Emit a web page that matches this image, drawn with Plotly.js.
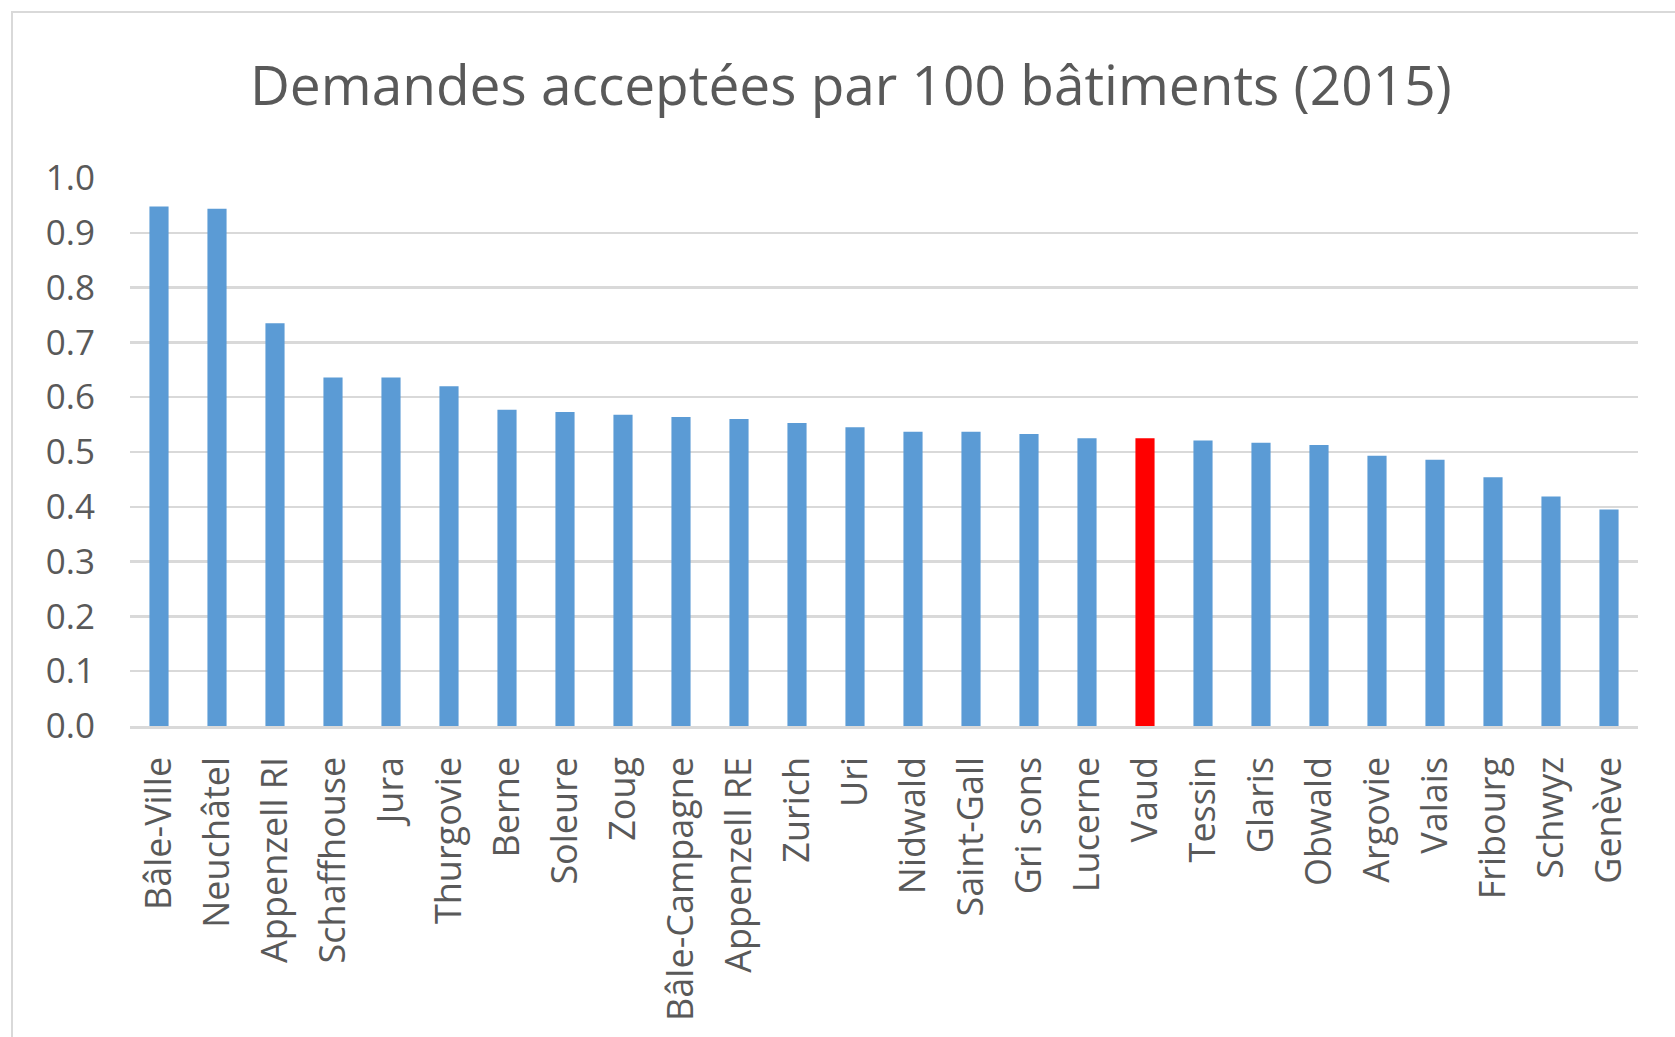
<!DOCTYPE html>
<html>
<head>
<meta charset="utf-8">
<script src="https://cdn.plot.ly/plotly-3.0.1.min.js"></script>
<style>
  html, body { margin: 0; padding: 0; background: #ffffff; overflow: hidden; }
  #frame {
    position: absolute; left: 11px; top: 11px;
    width: 1720px; height: 1100px;
    border: 2px solid #d9d9d9; box-sizing: border-box;
  }
  #chart { position: absolute; left: 0; top: 0; width: 1675px; height: 1037px; }
</style>
</head>
<body>
<div id="frame"></div>
<div id="chart"></div>
<script>
// Cantons, ordered from highest to lowest rate
const cantons = [
  "Bâle-Ville", "Neuchâtel", "Appenzell RI", "Schaffhouse", "Jura", "Thurgovie",
  "Berne", "Soleure", "Zoug", "Bâle-Campagne", "Appenzell RE", "Zurich", "Uri",
  "Nidwald", "Saint-Gall", "Gri sons", "Lucerne", "Vaud", "Tessin", "Glaris",
  "Obwald", "Argovie", "Valais", "Fribourg", "Schwyz", "Genève"
];

// Accepted requests per 100 buildings (2015)
const rates = [
  0.948, 0.944, 0.735, 0.636, 0.636, 0.620,
  0.577, 0.573, 0.568, 0.564, 0.560, 0.553, 0.545,
  0.537, 0.537, 0.533, 0.525, 0.525, 0.521, 0.517,
  0.513, 0.493, 0.486, 0.454, 0.419, 0.395
];

const highlighted = "Vaud";
const baseColor = "#5b9bd5";
const highlightColor = "#ff0000";
const barColors = cantons.map(c => c === highlighted ? highlightColor : baseColor);

const yTicks = [0, 0.1, 0.2, 0.3, 0.4, 0.5, 0.6, 0.7, 0.8, 0.9, 1.0];

const trace = {
  type: "bar",
  x: cantons,
  y: rates,
  marker: { color: barColors, line: { width: 0 } },
  hoverinfo: "x+y"
};

const yLabelFont = { family: "Open Sans, sans-serif", size: 35, color: "#595959" };
const xLabelFont = { family: "Open Sans, sans-serif", size: 36, color: "#595959" };

const layout = {
  width: 1675,
  height: 1037,
  paper_bgcolor: "rgba(0,0,0,0)",
  plot_bgcolor: "rgba(0,0,0,0)",
  margin: { l: 130, r: 37, t: 178, b: 311 },
  bargap: 0.67,
  showlegend: false,
  title: {
    text: "Demandes acceptées par 100 bâtiments (2015)",
    font: { family: "Open Sans, sans-serif", size: 55, color: "#595959" },
    x: 0.508, xanchor: "center", y: 0.917, yanchor: "middle"
  },
  xaxis: {
    type: "category",
    range: [-0.5, cantons.length - 0.5],
    tickangle: -90,
    tickfont: xLabelFont,
    showgrid: false,
    showline: true,
    linecolor: "#d9d9d9",
    linewidth: 2.5,
    ticks: "",
    ticklabelstandoff: 14,
    fixedrange: true
  },
  yaxis: {
    range: [0, 1.0],
    tickvals: yTicks,
    tickformat: ".1f",
    tickfont: yLabelFont,
    showgrid: true,
    gridcolor: "#d9d9d9",
    gridwidth: 2.5,
    zeroline: false,
    showline: false,
    ticks: "",
    ticklabelstandoff: 34,
    fixedrange: true
  }
};

Plotly.newPlot("chart", [trace], layout, { displayModeBar: false, staticPlot: true });
</script>
</body>
</html>
